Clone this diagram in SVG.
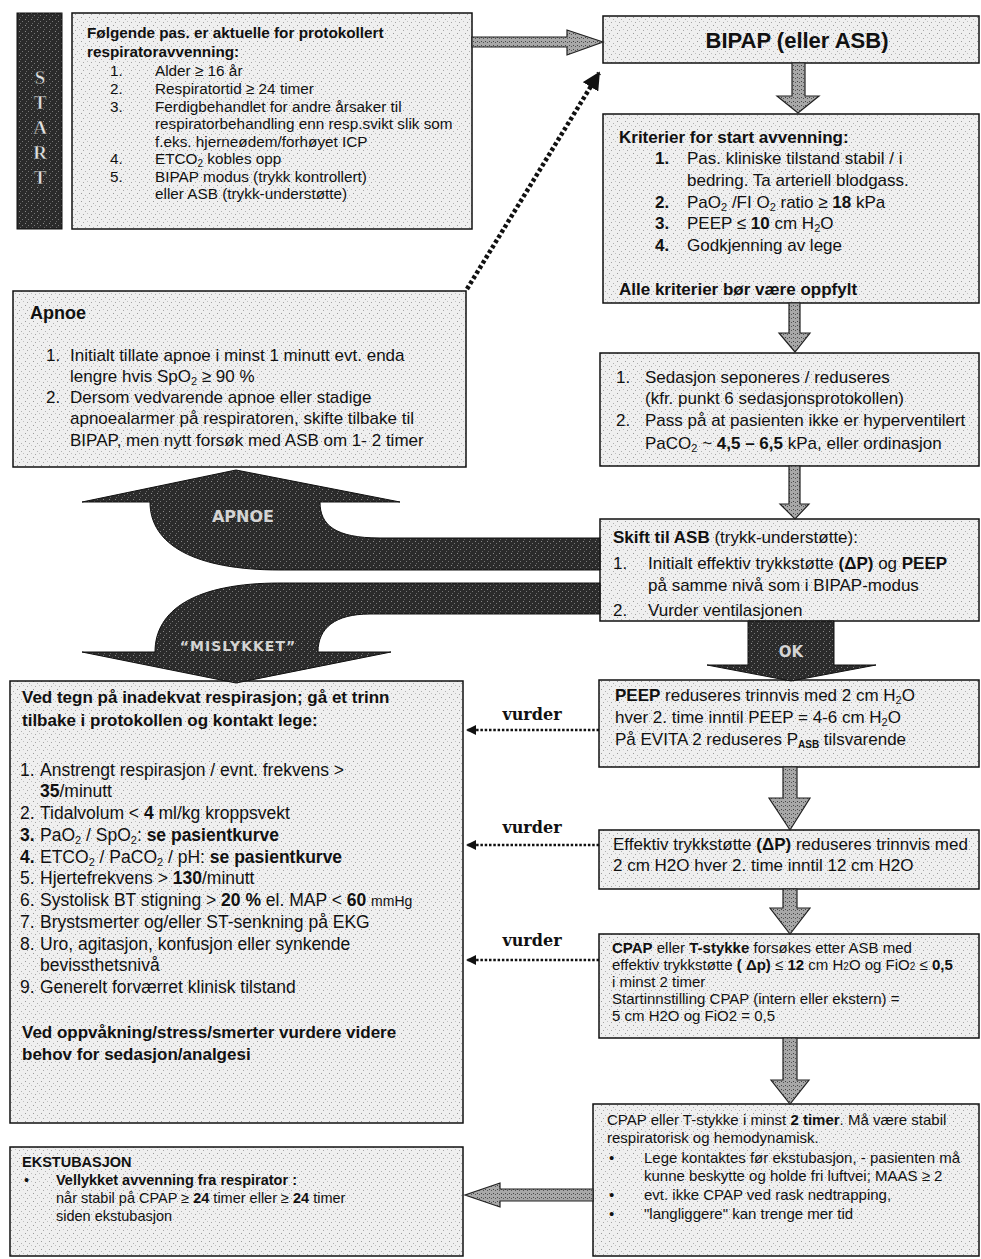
<svg xmlns="http://www.w3.org/2000/svg" width="981" height="1259" viewBox="0 0 981 1259">
<defs>
<pattern id="spk" width="8" height="8" patternUnits="userSpaceOnUse">
<rect width="8" height="8" fill="#efefef"/>
<rect x="1" y="1" width="1" height="1" fill="#9a9a9a"/>
<rect x="5" y="3" width="1" height="1" fill="#b0b0b0"/>
<rect x="3" y="6" width="1" height="1" fill="#a5a5a5"/>
<rect x="7" y="5" width="1" height="1" fill="#c0c0c0"/>
</pattern>
<pattern id="drk" width="6" height="6" patternUnits="userSpaceOnUse">
<rect width="6" height="6" fill="#2b2b2b"/>
<rect x="1" y="1" width="1" height="1" fill="#8a8a8a"/>
<rect x="4" y="3" width="1" height="1" fill="#777"/>
<rect x="2" y="5" width="1" height="1" fill="#666"/>
</pattern>
<pattern id="gry" width="4" height="4" patternUnits="userSpaceOnUse">
<rect width="4" height="4" fill="#a8a8a8"/>
<rect x="1" y="1" width="1" height="1" fill="#444"/>
<rect x="3" y="2" width="1" height="1" fill="#555"/>
</pattern>
<marker id="ah" viewBox="0 0 10 10" refX="9" refY="5" markerWidth="4" markerHeight="4" orient="auto">
<path d="M0,0 L10,5 L0,10 z" fill="#111"/>
</marker>
<style>
.t{font-family:"Liberation Sans",Arial,sans-serif;fill:#111;}
.b{font-weight:bold;}
.box{fill:url(#spk);stroke:#111;stroke-width:1.5;}
.garrow{fill:url(#gry);stroke:#222;stroke-width:1.2;}
.darrow{fill:url(#drk);stroke:#111;stroke-width:1;}
.dot{stroke:#111;fill:none;stroke-width:2.5;stroke-dasharray:2.5 1.8;}
.dotbig{stroke:#111;fill:none;stroke-width:4.5;stroke-dasharray:3.5 2.5;}
.vur{font-family:"DejaVu Serif","Liberation Serif",serif;font-weight:bold;font-size:16px;fill:#111;}
.lt{font-family:"DejaVu Sans","Liberation Sans",sans-serif;font-weight:bold;fill:#d4d4d4;}
.sl{font-family:"Liberation Serif","Times New Roman",serif;font-weight:bold;font-size:19px;fill:#e2e2e2;stroke:#222;stroke-width:0.5;}
</style>
</defs>
<rect width="981" height="1259" fill="#fff"/>

<g id="start-bar">
<rect x="17" y="13" width="45" height="216" fill="url(#drk)" stroke="#111"/>
<text class="sl" x="40" y="84" text-anchor="middle">S</text>
<text class="sl" x="40" y="109" text-anchor="middle">T</text>
<text class="sl" x="40" y="134" text-anchor="middle">A</text>
<text class="sl" x="40" y="159" text-anchor="middle">R</text>
<text class="sl" x="40" y="184" text-anchor="middle">T</text>
</g>

<g id="start-box" class="t" font-size="15.3">
<rect class="box" x="72" y="13" width="400" height="216"/>
<text class="b" x="87" y="38">Følgende pas. er aktuelle for protokollert</text>
<text class="b" x="87" y="57">respiratoravvenning:</text>
<text x="110" y="76">1.</text><text x="155" y="76">Alder ≥ 16 år</text>
<text x="110" y="94">2.</text><text x="155" y="94">Respiratortid ≥ 24 timer</text>
<text x="110" y="112">3.</text><text x="155" y="112">Ferdigbehandlet for andre årsaker til</text>
<text x="155" y="129">respiratorbehandling enn resp.svikt slik som</text>
<text x="155" y="147">f.eks. hjerneødem/forhøyet ICP</text>
<text x="110" y="164">4.</text><text x="155" y="164">ETCO<tspan font-size="10" dy="3">2</tspan><tspan dy="-3"> kobles opp</tspan></text>
<text x="110" y="182">5.</text><text x="155" y="182">BIPAP modus (trykk kontrollert)</text>
<text x="155" y="199">eller ASB (trykk-understøtte)</text>
</g>

<g id="bipap" class="t">
<rect class="box" x="603" y="16" width="376" height="47"/>
<text class="b" x="797" y="48" font-size="22" text-anchor="middle">BIPAP (eller ASB)</text>
</g>

<g id="kriterier" class="t" font-size="17">
<rect class="box" x="603" y="114" width="376" height="189"/>
<text class="b" x="619" y="143">Kriterier for start avvenning:</text>
<text class="b" x="655" y="164">1.</text><text x="687" y="164">Pas. kliniske tilstand stabil / i</text>
<text x="687" y="186">bedring. Ta arteriell blodgass.</text>
<text class="b" x="655" y="208">2.</text><text x="687" y="208">PaO<tspan font-size="11" dy="3">2</tspan><tspan dy="-3"> /FI O</tspan><tspan font-size="11" dy="3">2</tspan><tspan dy="-3"> ratio ≥ </tspan><tspan class="b">18</tspan> kPa</text>
<text class="b" x="655" y="229">3.</text><text x="687" y="229">PEEP ≤ <tspan class="b">10</tspan> cm H<tspan font-size="11" dy="3">2</tspan><tspan dy="-3">O</tspan></text>
<text class="b" x="655" y="251">4.</text><text x="687" y="251">Godkjenning av lege</text>
<text class="b" x="619" y="295">Alle kriterier bør være oppfylt</text>
</g>

<g id="apnoe" class="t" font-size="17">
<rect class="box" x="13" y="291" width="453" height="176"/>
<text class="b" x="30" y="319" font-size="18">Apnoe</text>
<text x="46" y="361">1.</text><text x="70" y="361">Initialt tillate apnoe i minst 1 minutt  evt. enda</text>
<text x="70" y="382">lengre hvis SpO<tspan font-size="11" dy="3">2</tspan><tspan dy="-3"> ≥ 90 %</tspan></text>
<text x="46" y="403">2.</text><text x="70" y="403">Dersom vedvarende apnoe eller stadige</text>
<text x="70" y="424">apnoealarmer på respiratoren, skifte tilbake til</text>
<text x="70" y="446">BIPAP, men nytt forsøk med ASB om 1- 2 timer</text>
</g>

<g id="sedasjon" class="t" font-size="17">
<rect class="box" x="600" y="353" width="379" height="113"/>
<text x="616" y="383">1.</text><text x="645" y="383">Sedasjon seponeres / reduseres</text>
<text x="645" y="404">(kfr. punkt 6 sedasjonsprotokollen)</text>
<text x="616" y="426">2.</text><text x="645" y="426">Pass på at pasienten ikke er hyperventilert</text>
<text x="645" y="449">PaCO<tspan font-size="11" dy="3">2</tspan><tspan dy="-3"> ~ </tspan><tspan class="b">4,5 – 6,5</tspan> kPa, eller ordinasjon</text>
</g>

<g id="skift" class="t" font-size="17">
<rect class="box" x="600" y="519" width="379" height="102"/>
<text x="613" y="543"><tspan class="b">Skift til ASB</tspan>  (trykk-understøtte):</text>
<text x="613" y="569">1.</text><text x="648" y="569">Initialt effektiv trykkstøtte <tspan class="b">(ΔP)</tspan> og <tspan class="b">PEEP</tspan></text>
<text x="648" y="591">på samme nivå som i BIPAP-modus</text>
<text x="613" y="616">2.</text><text x="648" y="616">Vurder ventilasjonen</text>
</g>

<g id="peep" class="t" font-size="17">
<rect class="box" x="599" y="680" width="380" height="87"/>
<text x="615" y="701"><tspan class="b">PEEP</tspan> reduseres trinnvis med 2 cm H<tspan font-size="11" dy="3">2</tspan><tspan dy="-3">O</tspan></text>
<text x="615" y="723">hver 2. time inntil PEEP = 4-6 cm H<tspan font-size="11" dy="3">2</tspan><tspan dy="-3">O</tspan></text>
<text x="615" y="745">På EVITA 2 reduseres P<tspan font-size="10" dy="3" class="b">ASB</tspan><tspan dy="-3"> tilsvarende</tspan></text>
</g>

<g id="effektiv" class="t" font-size="17">
<rect class="box" x="599" y="830" width="380" height="59"/>
<text x="613" y="850">Effektiv trykkstøtte <tspan class="b">(ΔP)</tspan> reduseres trinnvis med</text>
<text x="613" y="871">2 cm H2O hver 2. time inntil 12 cm H2O</text>
</g>

<g id="cpap" class="t" font-size="15">
<rect class="box" x="599" y="934" width="380" height="104"/>
<text x="612" y="953"><tspan class="b">CPAP</tspan> eller <tspan class="b">T-stykke</tspan> forsøkes etter ASB med</text>
<text x="612" y="970">effektiv trykkstøtte <tspan class="b">( Δp)</tspan>  ≤ <tspan class="b">12</tspan> cm H<tspan font-size="10">2</tspan>O og FiO<tspan font-size="10">2</tspan> ≤ <tspan class="b">0,5</tspan></text>
<text x="612" y="987">i minst 2 timer</text>
<text x="612" y="1004">Startinnstilling CPAP (intern eller ekstern)  =</text>
<text x="612" y="1021">5 cm H2O og FiO2 = 0,5</text>
</g>

<g id="final" class="t" font-size="15">
<rect class="box" x="593" y="1104" width="386" height="152"/>
<text x="607" y="1125">CPAP eller T-stykke i minst <tspan class="b">2 timer</tspan>. Må være stabil</text>
<text x="607" y="1143">respiratorisk og hemodynamisk.</text>
<text x="609" y="1163">•</text><text x="644" y="1163">Lege kontaktes før ekstubasjon, - pasienten må</text>
<text x="644" y="1181">kunne beskytte og holde fri luftvei; MAAS  ≥ 2</text>
<text x="609" y="1200">•</text><text x="644" y="1200">evt. ikke CPAP ved rask nedtrapping,</text>
<text x="609" y="1219">•</text><text x="644" y="1219">"langliggere" kan trenge mer tid</text>
</g>

<g id="inadekvat" class="t" font-size="17.5">
<rect class="box" x="10" y="681" width="453" height="442"/>
<text class="b" x="22" y="703" font-size="17">Ved tegn på inadekvat respirasjon; gå et trinn</text>
<text class="b" x="22" y="726" font-size="17">tilbake i protokollen og kontakt lege:</text>
<text x="20" y="776">1.</text><text x="40" y="776">Anstrengt respirasjon / evnt. frekvens &gt;</text>
<text x="40" y="797"><tspan class="b">35</tspan>/minutt</text>
<text x="20" y="819">2.</text><text x="40" y="819">Tidalvolum &lt; <tspan class="b">4</tspan> ml/kg kroppsvekt</text>
<text class="b" x="20" y="841">3.</text><text x="40" y="841">PaO<tspan font-size="11" dy="3">2</tspan><tspan dy="-3"> / SpO</tspan><tspan font-size="11" dy="3">2</tspan><tspan dy="-3">: </tspan><tspan class="b">se pasientkurve</tspan></text>
<text class="b" x="20" y="863">4.</text><text x="40" y="863">ETCO<tspan font-size="11" dy="3">2</tspan><tspan dy="-3"> /  PaCO</tspan><tspan font-size="11" dy="3">2</tspan><tspan dy="-3"> / pH: </tspan><tspan class="b">se pasientkurve</tspan></text>
<text x="20" y="884">5.</text><text x="40" y="884">Hjertefrekvens &gt; <tspan class="b">130</tspan>/minutt</text>
<text x="20" y="906">6.</text><text x="40" y="906">Systolisk BT stigning &gt; <tspan class="b">20 %</tspan>  el. MAP &lt; <tspan class="b">60</tspan> <tspan font-size="14">mmHg</tspan></text>
<text x="20" y="928">7.</text><text x="40" y="928">Brystsmerter og/eller ST-senkning på EKG</text>
<text x="20" y="950">8.</text><text x="40" y="950">Uro, agitasjon, konfusjon eller synkende</text>
<text x="40" y="971">bevissthetsnivå</text>
<text x="20" y="993">9.</text><text x="40" y="993">Generelt forværret klinisk tilstand</text>
<text class="b" x="22" y="1038" font-size="17">Ved oppvåkning/stress/smerter vurdere videre</text>
<text class="b" x="22" y="1060" font-size="17">behov for sedasjon/analgesi</text>
</g>

<g id="ekstubasjon" class="t" font-size="14.5">
<rect class="box" x="10" y="1147" width="453" height="109"/>
<text class="b" x="22" y="1167">EKSTUBASJON</text>
<text x="24" y="1185">•</text><text class="b" x="56" y="1185">Vellykket avvenning fra respirator :</text>
<text x="56" y="1203">når stabil  på CPAP  ≥ <tspan class="b">24</tspan> timer eller ≥ <tspan class="b">24</tspan> timer</text>
<text x="56" y="1221">siden ekstubasjon</text>
</g>

<g id="connectors">
<polygon class="garrow" points="472,37 567,37 567,30 603,42 567,55 567,47 472,47"/>
<polygon class="garrow" points="792,63 805,63 805,96 819,96 798,113 777,96 792,96"/>
<polygon class="garrow" points="789,303 800,303 800,333 810,333 795,352 779,333 789,333"/>
<polygon class="garrow" points="789,466 800,466 800,504 809,504 795,519 780,504 789,504"/>
<polygon class="garrow" points="783,767 797,767 797,798 810,798 790,830 769,798 783,798"/>
<polygon class="garrow" points="783,889 797,889 797,908 810,908 790,934 770,908 783,908"/>
<polygon class="garrow" points="783,1038 797,1038 797,1080 809,1080 790,1104 771,1080 783,1080"/>
<polygon class="garrow" points="593,1189 500,1189 500,1183 465,1195 500,1207 500,1201 593,1201"/>
<polygon class="darrow" points="748,621 834,621 834,665 876,665 791,681 707,665 748,665"/>
<text class="lt" x="791" y="657" font-size="15" text-anchor="middle">OK</text>
<path class="darrow" d="M236,470 L400,502 L320,502 C320,525 335,538 380,538 L600,538 L600,570 L280,570 C195,570 150,545 150,502 L82,502 Z"/>
<text class="lt" x="243" y="522" font-size="16" text-anchor="middle">APNOE</text>
<path class="darrow" d="M600,583 L600,614 L370,614 C335,614 318,628 318,652 L391,652 L236,683 L82,652 L155,652 C155,610 195,583 280,583 Z"/>
<text class="lt" x="238" y="651" font-size="14" letter-spacing="1" text-anchor="middle">“MISLYKKET”</text>
<line class="dotbig" x1="467" y1="289" x2="599" y2="73" marker-end="url(#ah)"/>
<line class="dot" x1="599" y1="730" x2="467" y2="730" marker-end="url(#ah)"/>
<line class="dot" x1="599" y1="845" x2="467" y2="845" marker-end="url(#ah)"/>
<line class="dot" x1="599" y1="960" x2="467" y2="960" marker-end="url(#ah)"/>
<text class="vur" x="532" y="720" text-anchor="middle">vurder</text>
<text class="vur" x="532" y="833" text-anchor="middle">vurder</text>
<text class="vur" x="532" y="946" text-anchor="middle">vurder</text>
</g>
</svg>
